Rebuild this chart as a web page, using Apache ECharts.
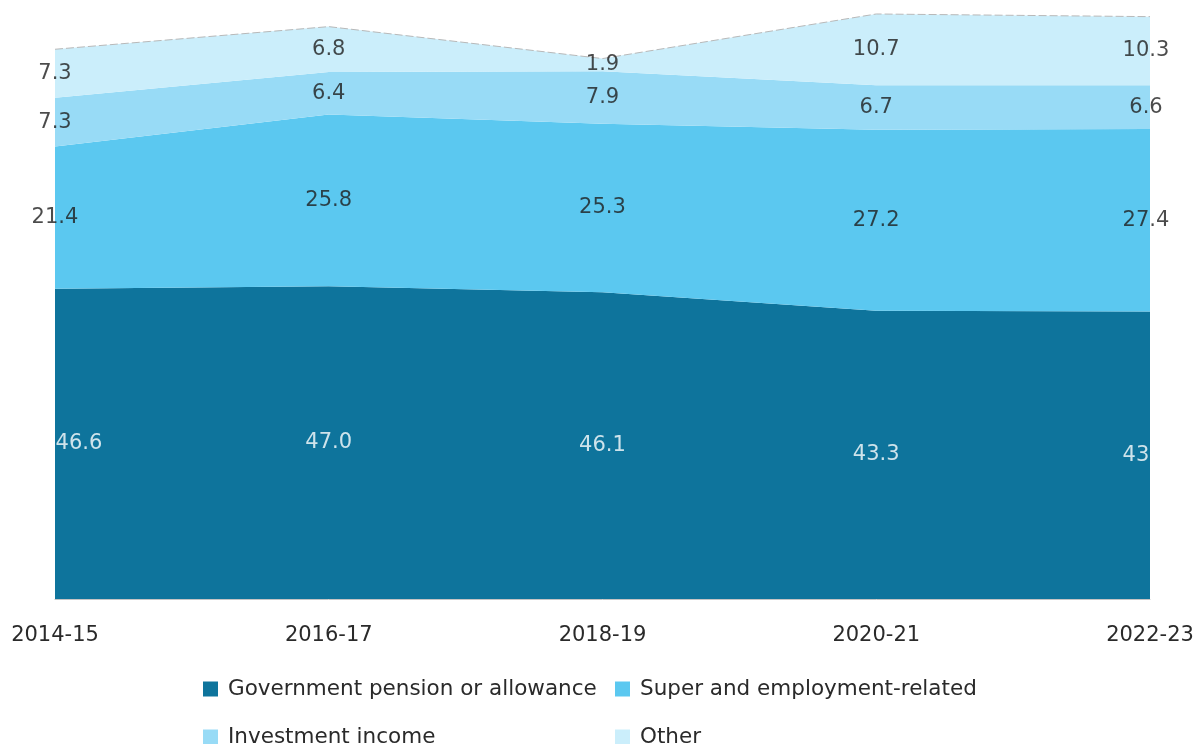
<!DOCTYPE html>
<html>
<head>
<meta charset="utf-8">
<script src="https://cdn.jsdelivr.net/npm/echarts@6/dist/echarts.min.js"></script>
<style>
html,body{margin:0;padding:0;background:#fff;}
#chart{width:1197px;height:744px;}
</style>
</head>
<body>
<div id="chart"></div>
<script>
const categories = ['2014-15', '2016-17', '2018-19', '2020-21', '2022-23'];
const seriesNames = ['Government pension or allowance', 'Super and employment-related', 'Investment income', 'Other'];
const govPension = [46.6, 47.0, 46.1, 43.3, 43.2];
const superEmployment = [21.4, 25.8, 25.3, 27.2, 27.4];
const investmentIncome = [7.3, 6.4, 7.9, 6.7, 6.6];
const otherIncome = [7.3, 6.8, 1.9, 10.7, 10.3];

const colors = ['#0e749c', '#5bc8f0', '#98dbf6', '#cbeefb'];
const labelColors = ['#ffffff', '#1e1e1e', '#1e1e1e', '#1e1e1e'];
const allSeries = [govPension, superEmployment, investmentIncome, otherIncome];
const FONT = 'DejaVu Sans';

const chart = echarts.init(document.getElementById('chart'));

const series = [];
allSeries.forEach((vals, si) => {
  series.push({
    name: seriesNames[si],
    type: 'line',
    stack: 'total',
    data: vals,
    symbol: 'none',
    lineStyle: si === 3 ? { width: 1, color: '#b8b8b8', type: [8, 3] } : { width: 0 },
    areaStyle: { color: colors[si], opacity: 1 },
    itemStyle: { color: colors[si] },
    z: 2
  });
});
// label overlay at middle of each band
allSeries.forEach((vals, si) => {
  const pts = vals.map((v, i) => {
    let base = 0;
    for (let k = 0; k < si; k++) base += allSeries[k][i];
    const item = { value: [categories[i], base + v / 2], raw: v };
    if (si === 0 && i === 0) item.label = { offset: [24, 0] };
    if (i === categories.length - 1) item.label = Object.assign({}, item.label || {}, { offset: [-4, 0] });
    return item;
  });
  series.push({
    type: 'scatter',
    data: pts,
    symbolSize: 0,
    silent: true,
    z: 5,
    label: {
      show: true,
      position: 'inside',
      color: labelColors[si],
      fontFamily: FONT,
      fontSize: 21,
      formatter: p => p.data.raw.toFixed(1)
    }
  });
});

function legendItem(name, left, top) {
  return {
    data: [name],
    left: left, top: top,
    icon: 'rect',
    itemWidth: 15, itemHeight: 15,
    itemGap: 10,
    textStyle: { fontFamily: FONT, fontSize: 21.5, color: '#2a2a2a', padding: [0, 0, 0, 5] },
    selectedMode: false
  };
}

chart.setOption({
  animation: false,
  color: colors,
  grid: { left: 55, right: 47, top: 0, bottom: 145 },
  xAxis: {
    type: 'category',
    data: categories,
    boundaryGap: false,
    axisTick: { show: false },
    axisLine: { lineStyle: { color: '#c4c4c4', width: 1 } },
    axisLabel: { fontFamily: FONT, fontSize: 21, color: '#2a2a2a', margin: 26 }
  },
  yAxis: {
    type: 'value',
    min: 0, max: 90,
    show: false,
    splitLine: { show: false }
  },
  legend: [
    legendItem(seriesNames[0], 198, 673),
    legendItem(seriesNames[1], 610, 673),
    legendItem(seriesNames[2], 198, 721),
    legendItem(seriesNames[3], 610, 721)
  ],
  series: series
});
</script>
</body>
</html>
